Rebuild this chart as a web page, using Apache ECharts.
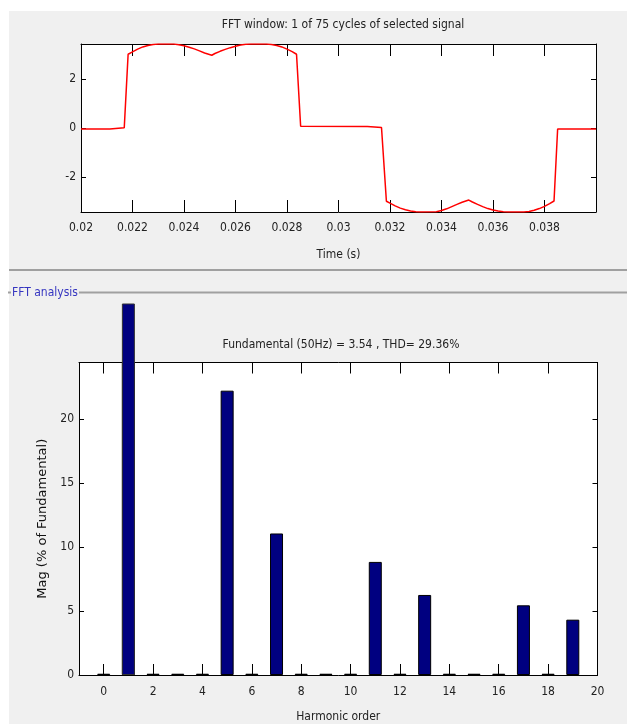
<!DOCTYPE html>
<html><head><meta charset="utf-8">
<script src="https://cdn.jsdelivr.net/npm/echarts@6/dist/echarts.min.js"></script>
<style>html,body{margin:0;padding:0;background:#fff;overflow:hidden}#c{width:627px;height:724px}</style>
</head><body><div id="c"></div>
<script>
// ---- data ----
const timeS = [0.0200,0.02112,0.02114,0.02168,0.02183,0.0220,0.0222,0.0224,0.0226,0.0228,0.0230,0.0236,0.0238,0.0240,0.0242,0.0244,0.0246,0.0248,0.02508,0.0252,0.0254,0.0256,0.0258,0.0260,0.0262,0.0264,0.0266,0.0272,0.0274,0.0276,0.0278,0.0280,0.0282,0.02837,0.02853,0.03112,0.03114,0.03167,0.03186,0.0320,0.0322,0.0324,0.0326,0.0328,0.0330,0.0332,0.0338,0.0340,0.0342,0.0344,0.0346,0.0348,0.03506,0.0352,0.0354,0.0356,0.0358,0.0360,0.0362,0.0364,0.0366,0.0372,0.0374,0.0376,0.0378,0.0380,0.0382,0.03837,0.03851,0.0400];
const signalV = [-0.04,-0.04,0.01,0.01,3.02,3.12,3.23,3.32,3.38,3.42,3.44,3.44,3.41,3.37,3.31,3.24,3.16,3.07,2.98,3.05,3.14,3.22,3.29,3.35,3.40,3.43,3.44,3.44,3.42,3.38,3.32,3.23,3.13,3.02,0.07,0.06,0.02,0.02,-3.0,-3.08,-3.19,-3.28,-3.35,-3.40,-3.43,-3.44,-3.43,-3.38,-3.31,-3.22,-3.13,-3.04,-2.95,-3.03,-3.13,-3.22,-3.30,-3.36,-3.40,-3.43,-3.44,-3.44,-3.42,-3.37,-3.30,-3.21,-3.10,-2.99,-0.04,-0.04];
const timeTicks = [0.02,0.022,0.024,0.026,0.028,0.03,0.032,0.034,0.036,0.038];
const signalTicks = [-2,0,2];
const harmonicOrder = [0,1,2,3,4,5,6,7,8,9,10,11,12,13,14,15,16,17,18,19];
const harmonicMag = [0.1,100,0.1,0.1,0.1,22.2,0.1,11.05,0.1,0.1,0.1,8.83,0.1,6.25,0.1,0.1,0.1,5.44,0.1,4.32];
const orderTicks = [0,2,4,6,8,10,12,14,16,18,20];
const magTicks = [0,5,10,15,20];
const fundamentalOrder = 1;

const FONT = "'Liberation Sans Narrow','DejaVu Sans Condensed','Arial Narrow',sans-serif";
const TXT = '#222';
const chart = echarts.init(document.getElementById('c'), null, {renderer:'canvas'});

const boxAxisLine = {show:true, onZero:false, lineStyle:{color:'#000', width:1}};
const lbl = {color:TXT, fontFamily:FONT, fontSize:12};

const sigData = timeS.map((t,i)=>[t, signalV[i]]);
const barData = harmonicOrder.map((h,i)=>[h, harmonicMag[i]]);
const fundData = harmonicOrder.map((h,i)=> h===fundamentalOrder ? [h, harmonicMag[i]] : [h, '-']);

chart.setOption({
  animation:false,
  backgroundColor:'#f0f0f0',
  graphic:[
    {type:'rect', shape:{x:0,y:0,width:9,height:724}, style:{fill:'#fff'}, silent:true, z:1},
    {type:'rect', shape:{x:0,y:0,width:627,height:11}, style:{fill:'#fff'}, silent:true, z:1},
    {type:'line', shape:{x1:9,y1:270,x2:627,y2:270}, style:{stroke:'#a0a0a0', lineWidth:2}, silent:true, z:1},
    {type:'line', shape:{x1:8,y1:292.5,x2:627,y2:292.5}, style:{stroke:'#a0a0a0', lineWidth:2}, silent:true, z:1},
    {type:'text', x:11, y:292.5, z:2, style:{text:'FFT analysis', fill:'#3535c0', font:'12px '+FONT,
      textVerticalAlign:'middle', backgroundColor:'#f0f0f0', padding:[0,1,0,1]}, silent:true}
  ],
  title:[
    {text:'FFT window: 1 of 75 cycles of selected signal', left:338, top:14, textAlign:'center',
     textStyle:{fontSize:12, fontWeight:'normal', color:TXT, fontFamily:FONT}},
    {text:'Fundamental (50Hz) = 3.54 , THD= 29.36%', left:336, top:334, textAlign:'center',
     textStyle:{fontSize:12, fontWeight:'normal', color:TXT, fontFamily:FONT}}
  ],
  grid:[
    {left:81, top:44, width:515, height:168, show:true, backgroundColor:'#fff', borderWidth:0, containLabel:false},
    {left:79, top:362.5, width:518.5, height:312.5, show:true, backgroundColor:'#fff', borderWidth:0, containLabel:false},
    {left:79, top:304, width:518.5, height:371, show:false, containLabel:false}
  ],
  xAxis:[
    {gridIndex:0, type:'value', position:'bottom', min:0.02, max:0.04,
     axisLine:boxAxisLine, splitLine:{show:false},
     axisTick:{show:true, inside:true, length:12, customValues:timeTicks, lineStyle:{color:'#000'}},
     axisLabel:{customValues:timeTicks, margin:10, ...lbl, formatter:v=>String(v)},
     name:'Time (s)', nameLocation:'middle', nameGap:37, nameTextStyle:{...lbl}},
    {gridIndex:0, type:'value', position:'top', min:0.02, max:0.04,
     axisLine:boxAxisLine, splitLine:{show:false},
     axisTick:{show:true, inside:true, length:12, customValues:timeTicks, lineStyle:{color:'#000'}},
     axisLabel:{show:false}},
    {gridIndex:1, type:'value', position:'bottom', min:-1, max:20,
     axisLine:boxAxisLine, splitLine:{show:false},
     axisTick:{show:true, inside:true, length:11, customValues:orderTicks, lineStyle:{color:'#000'}},
     axisLabel:{customValues:orderTicks, margin:11, ...lbl},
     name:'Harmonic order', nameLocation:'middle', nameGap:36, nameTextStyle:{...lbl}},
    {gridIndex:1, type:'value', position:'top', min:-1, max:20,
     axisLine:boxAxisLine, splitLine:{show:false},
     axisTick:{show:true, inside:true, length:11, customValues:orderTicks, lineStyle:{color:'#000'}},
     axisLabel:{show:false}},
    {gridIndex:2, type:'value', position:'bottom', min:-1, max:20, show:false}
  ],
  yAxis:[
    {gridIndex:0, type:'value', position:'left', min:-3.44, max:3.44,
     axisLine:boxAxisLine, splitLine:{show:false},
     axisTick:{show:true, inside:true, length:5, customValues:signalTicks, lineStyle:{color:'#000'}},
     axisLabel:{customValues:signalTicks, margin:5, ...lbl}},
    {gridIndex:0, type:'value', position:'right', min:-3.44, max:3.44,
     axisLine:boxAxisLine, splitLine:{show:false},
     axisTick:{show:true, inside:true, length:5, customValues:signalTicks, lineStyle:{color:'#000'}},
     axisLabel:{show:false}},
    {gridIndex:1, type:'value', position:'left', min:0, max:24.4,
     axisLine:boxAxisLine, splitLine:{show:false},
     axisTick:{show:true, inside:true, length:5, customValues:magTicks, lineStyle:{color:'#000'}},
     axisLabel:{customValues:magTicks, margin:5, ...lbl},
     name:'Mag (% of Fundamental)', nameLocation:'middle', nameGap:16,
     nameTextStyle:{color:'#111', fontFamily:"'DejaVu Sans',sans-serif", fontSize:13}},
    {gridIndex:1, type:'value', position:'right', min:0, max:24.4,
     axisLine:boxAxisLine, splitLine:{show:false},
     axisTick:{show:true, inside:true, length:5, customValues:magTicks, lineStyle:{color:'#000'}},
     axisLabel:{show:false}},
    {gridIndex:2, type:'value', min:0, max:28.96, show:false}
  ],
  series:[
    {type:'line', xAxisIndex:0, yAxisIndex:0, data:sigData, showSymbol:false, symbol:'none',
     lineStyle:{color:'#ff0000', width:1.5}, clip:true, z:3},
    {type:'bar', xAxisIndex:2, yAxisIndex:2, data:barData, barWidth:13,
     itemStyle:{color:'#000080', borderColor:'#000', borderWidth:1}, z:1},
    {type:'bar', xAxisIndex:4, yAxisIndex:4, data:fundData, barWidth:13,
     itemStyle:{color:'#000080', borderColor:'#333', borderWidth:1}, z:1}
  ]
});
</script></body></html>
